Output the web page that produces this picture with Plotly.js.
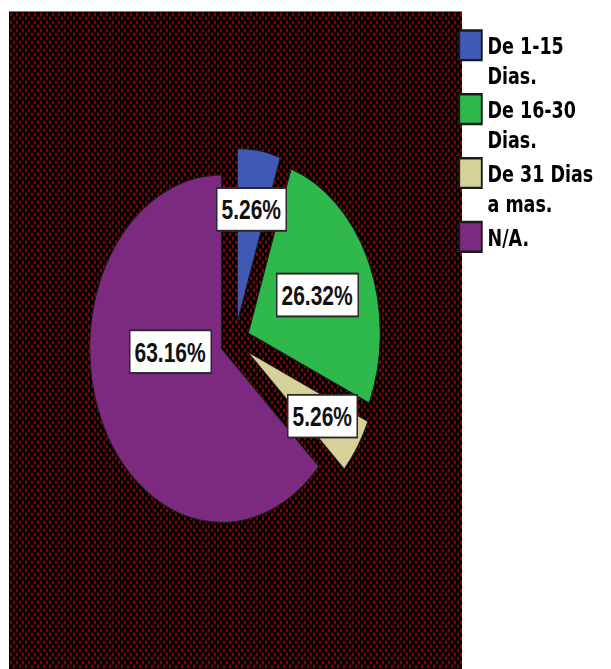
<!DOCTYPE html>
<html>
<head>
<meta charset="utf-8">
<script src="https://cdn.plot.ly/plotly-3.0.1.min.js"></script>
<style>
html,body{margin:0;padding:0;background:#ffffff;overflow:hidden;}
#wrap{position:relative;width:611px;height:669px;}
#bg{position:absolute;left:9px;top:11px;width:453px;height:658px;border-top:1.5px solid #7a7a7a;background-color:#000;}
#chart{position:absolute;left:0;top:0;width:611px;height:508px;transform:scaleY(1.317);transform-origin:0 0;}
.legendpie{transform:translate(23px,0px) scale(1.88);}
</style>
</head>
<body>
<div id="wrap"><div id="bg"></div><div id="chart"></div></div>
<script>
// ---- data ----
const categories = ['De 1-15<br>Dias.', 'De 16-30<br>Dias.', 'De 31 Dias<br>a mas.', 'N/A.'];
const percents = [5.26, 26.32, 5.26, 63.16];
const sliceColors = ['#3f59b5', '#2fb84c', '#d6d198', '#7c2a80'];

// ---- background pattern (plot area) ----
const pat = "<svg xmlns='http://www.w3.org/2000/svg' width='6' height='8'>" +
  "<rect width='6' height='8' fill='#000'/>" +
  "<rect x='1' y='0.5' width='2' height='4' rx='1' fill='#940000'/>" +
  "<rect x='4' y='4.5' width='2' height='4' rx='1' fill='#940000'/></svg>";
document.getElementById('bg').style.backgroundImage = 'url("data:image/svg+xml,' + encodeURIComponent(pat) + '")';

// ---- geometry (unscaled pixel space) ----
const W = 611, H = 508;
const CX = 235, CY = 258.9, R = 132, PULL = 0.11;
const BOX = R * (1 + PULL);
const labelR = [0.66, 0.57, 0.68, 0.39];
const labelTurn = [0, 0.7, 0, 21];

const total = percents.reduce((a, b) => a + b, 0);
const annotations = [];
let cum = 0;
percents.forEach((v, i) => {
  const a0 = cum / total * 360; cum += v; const a1 = cum / total * 360;
  const mid = (a0 + a1) / 2 * Math.PI / 180;
  const sx = CX + PULL * R * Math.sin(mid), sy = CY - PULL * R * Math.cos(mid);
  const t = mid + labelTurn[i] * Math.PI / 180;
  const lx = sx + labelR[i] * R * Math.sin(t), ly = sy - labelR[i] * R * Math.cos(t);
  annotations.push({
    xref: 'paper', yref: 'paper', x: lx / W, y: 1 - ly / H,
    xanchor: 'center', yanchor: 'middle', showarrow: false,
    text: v.toFixed(2) + '%',
    font: {family: 'Liberation Sans, Arial, sans-serif', size: 21, weight: 700, color: '#111'},
    bgcolor: '#ffffff', bordercolor: '#2a2a2a', borderwidth: 1.5, borderpad: 4
  });
});

const trace = {
  type: 'pie',
  labels: categories,
  values: percents,
  sort: false,
  direction: 'clockwise',
  rotation: 0,
  pull: PULL,
  marker: {colors: sliceColors, line: {color: '#1a1a1a', width: 1}},
  textinfo: 'none',
  hoverinfo: 'none',
  domain: {x: [(CX - BOX) / W, (CX + BOX) / W], y: [1 - (CY + BOX) / H, 1 - (CY - BOX) / H]}
};

const layout = {
  width: W, height: H,
  margin: {l: 0, r: 0, t: 0, b: 0},
  paper_bgcolor: 'rgba(0,0,0,0)',
  plot_bgcolor: 'rgba(0,0,0,0)',
  showlegend: true,
  legend: {
    x: 447.5 / W, xanchor: 'left', y: 1 - 16.5 / H, yanchor: 'top',
    bgcolor: 'rgba(0,0,0,0)', borderwidth: 0, valign: 'top',
    font: {family: 'DejaVu Sans, sans-serif', size: 17.5, weight: 700, color: '#000'},
    tracegroupgap: 0, traceorder: 'normal'
  },
  annotations: annotations
};

Plotly.newPlot('chart', [trace], layout, {staticPlot: true, displayModeBar: false});
</script>
</body>
</html>
